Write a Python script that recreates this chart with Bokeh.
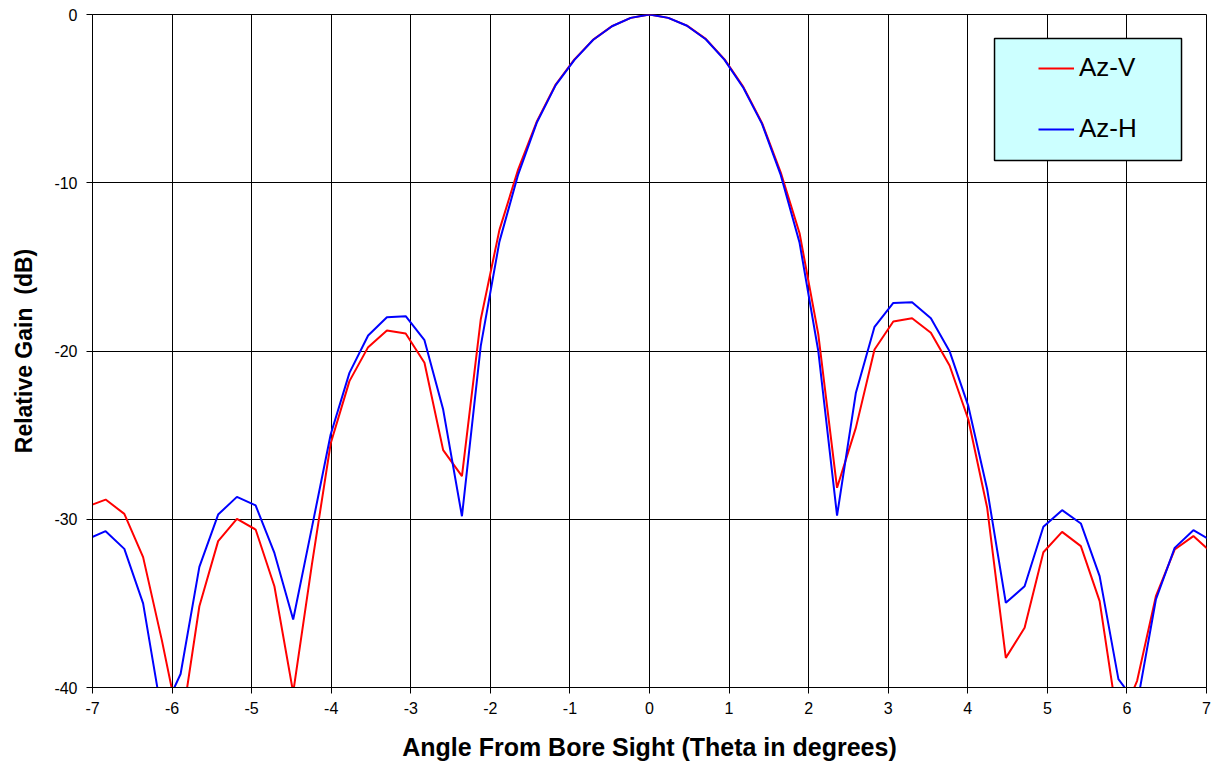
from bokeh.plotting import figure
from bokeh.models import Range1d, FixedTicker, Legend, LegendItem, BoxAnnotation
from bokeh.embed import file_html
from bokeh.resources import INLINE

# Angle samples (degrees)
theta = [-7.071, -6.835, -6.600, -6.364, -6.128, -5.893, -5.657, -5.421, -5.185, -4.950,
         -4.714, -4.478, -4.243, -4.007, -3.771, -3.536, -3.300, -3.064, -2.828, -2.593,
         -2.357, -2.121, -1.886, -1.650, -1.414, -1.179, -0.943, -0.707, -0.471, -0.236,
         0.0, 0.236, 0.471, 0.707, 0.943, 1.179, 1.414, 1.650, 1.886, 2.121,
         2.357, 2.593, 2.828, 3.064, 3.300, 3.536, 3.771, 4.007, 4.243, 4.478,
         4.714, 4.950, 5.185, 5.421, 5.657, 5.893, 6.128, 6.364, 6.600, 6.835, 7.071]

az_v = [-29.25, -28.83, -29.68, -32.25, -37.2, -42.6, -35.17, -31.30, -29.98, -30.61,
        -33.98, -40.3, -32.7, -25.5, -21.79, -19.77, -18.78, -18.96, -20.70, -25.89,
        -27.44, -18.13, -12.8, -9.2, -6.34, -4.16, -2.67, -1.49, -0.69, -0.2,
        0.0, -0.2, -0.66, -1.45, -2.67, -4.3, -6.44, -9.4, -13.0, -19.0,
        -28.13, -24.57, -19.91, -18.25, -18.05, -18.92, -20.86, -24.07, -29.3, -38.24,
        -36.45, -31.96, -30.75, -31.6, -34.87, -42.3, -39.6, -34.57, -31.8, -31.0, -32.0]

az_h = [-31.2, -30.71, -31.76, -35.0, -41.6, -39.2, -32.83, -29.72, -28.67, -29.18,
        -32.0, -35.96, -30.5, -24.96, -21.30, -19.08, -17.99, -17.93, -19.36, -23.48,
        -29.82, -19.71, -13.5, -9.5, -6.4, -4.2, -2.7, -1.5, -0.7, -0.2,
        0.0, -0.2, -0.67, -1.47, -2.7, -4.35, -6.5, -9.55, -13.57, -20.0,
        -29.78, -22.5, -18.56, -17.14, -17.10, -18.05, -20.01, -23.28, -28.2, -34.97,
        -33.98, -30.45, -29.46, -30.25, -33.38, -39.5, -41.0, -34.77, -31.70, -30.65, -31.3]

x_ticks = [-7, -6, -5, -4, -3, -2, -1, 0, 1, 2, 3, 4, 5, 6, 7]
y_ticks = [-40, -30, -20, -10, 0]

FONT = "Liberation Sans"

p = figure(frame_width=1114, frame_height=673,
           x_range=Range1d(-7, 7), y_range=Range1d(-40, 0),
           output_backend="svg", toolbar_location=None,
           min_border_left=92, min_border_right=10, min_border_top=14, min_border_bottom=72)

p.background_fill_color = "white"
p.border_fill_color = "white"
p.outline_line_color = "black"
p.outline_line_width = 1

# grid
p.xgrid.grid_line_color = "black"
p.ygrid.grid_line_color = "black"
p.xgrid.grid_line_width = 1
p.ygrid.grid_line_width = 1
p.xaxis.ticker = FixedTicker(ticks=x_ticks)
p.yaxis.ticker = FixedTicker(ticks=y_ticks)
p.xgrid.ticker = FixedTicker(ticks=x_ticks)
p.ygrid.ticker = FixedTicker(ticks=y_ticks)
p.xaxis.major_label_overrides = {t: str(t) for t in x_ticks}
p.yaxis.major_label_overrides = {t: str(t) for t in y_ticks}

for ax in (p.xaxis[0], p.yaxis[0]):
    ax.axis_line_color = "black"
    ax.major_tick_line_color = "black"
    ax.major_tick_out = 6
    ax.major_tick_in = 0
    ax.minor_tick_line_color = None
    ax.major_label_text_font = FONT
    ax.major_label_text_font_size = "16px"
    ax.major_label_text_color = "black"
    ax.axis_label_text_font = FONT
    ax.axis_label_text_font_style = "bold"
    ax.axis_label_text_color = "black"

p.xaxis.major_label_standoff = 8
p.yaxis.major_label_standoff = 9
p.xaxis.axis_label = "Angle From Bore Sight (Theta in degrees)"
p.yaxis.axis_label = "Relative Gain\u00a0 (dB)"
p.xaxis.axis_label_text_font_size = "25px"
p.yaxis.axis_label_text_font_size = "23px"
p.xaxis.axis_label_standoff = 16
p.yaxis.axis_label_standoff = 14

r_v = p.line(theta, az_v, line_color="#FF0000", line_width=2)
r_h = p.line(theta, az_h, line_color="#0000FF", line_width=2)

# legend box
box = BoxAnnotation(left=4.336, right=6.686, top=-1.43, bottom=-8.68,
                    fill_color="#CCFFFF", fill_alpha=1.0,
                    line_color="black", line_alpha=1.0, line_width=1.5,
                    level="annotation")
p.add_layout(box)

legend = Legend(items=[LegendItem(label="Az-V", renderers=[r_v]),
                       LegendItem(label="Az-H", renderers=[r_h])],
                location=(946, 543), margin=0, padding=0, spacing=30,
                glyph_width=36, glyph_height=30, label_height=30, label_standoff=5,
                background_fill_alpha=0, border_line_alpha=0,
                label_text_font=FONT, label_text_font_size="26px",
                label_text_color="black")
p.add_layout(legend)

open("out.html", "w").write(file_html(p, INLINE))
